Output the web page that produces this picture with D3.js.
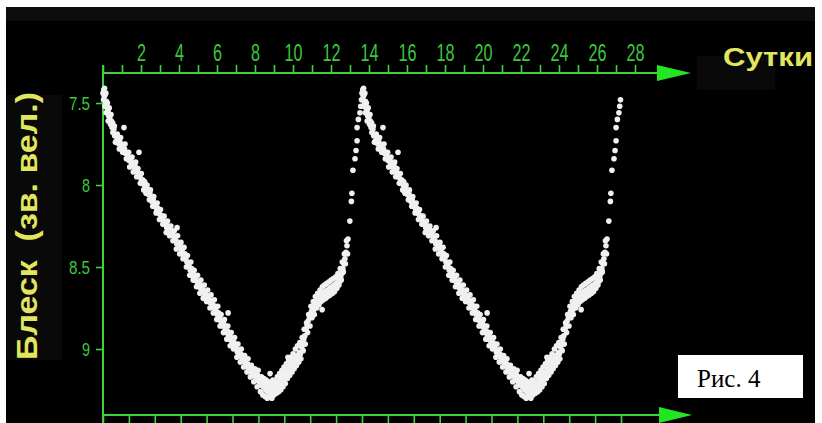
<!DOCTYPE html>
<html>
<head>
<meta charset="utf-8">
<script src="https://cdn.jsdelivr.net/npm/d3@7"></script>
<style>
  body { margin: 0; background: #fff; }
  svg { display: block; }
</style>
</head>
<body>
<div id="rootDiv"></div>
<script>
const width = 822
const height = 423

// top axis: days
const dayTicks = d3.range(0, 29)
const dayLabels = [2, 4, 6, 8, 10, 12, 14, 16, 18, 20, 22, 24, 26, 28]
// bottom axis: phase ticks (two periods)
const phaseTicks = d3.range(0, 21).map(i => i / 10)
// left axis: magnitude
const magTicks = [7.5, 8, 8.5, 9]

// one period of the light curve, [phase, magnitude], plotted twice
const lightCurve = [
    [0.000, 7.44], [0.003, 7.42], [0.005, 7.46], [0.002, 7.48], [0.008, 7.45], [0.010, 7.50], [0.007, 7.52],
    [0.013, 7.49], [0.016, 7.53], [0.012, 7.56], [0.019, 7.55], [0.022, 7.58], [0.020, 7.61], [0.026, 7.59],
    [0.029, 7.63], [0.032, 7.61], [0.035, 7.65], [0.038, 7.68], [0.042, 7.66], [0.045, 7.70], [0.081, 7.65],
    [0.052, 7.73], [0.057, 7.72], [0.061, 7.75], [0.066, 7.74], [0.070, 7.77], [0.074, 7.76], [0.079, 7.79],
    [0.083, 7.78], [0.088, 7.81], [0.092, 7.80], [0.097, 7.83], [0.101, 7.85], [0.105, 7.84], [0.110, 7.87],
    [0.114, 7.86], [0.119, 7.89], [0.123, 7.88], [0.139, 7.80], [0.128, 7.91], [0.132, 7.92], [0.137, 7.94],
    [0.141, 7.93], [0.146, 7.96], [0.150, 7.98], [0.154, 7.97], [0.159, 8.00], [0.163, 8.02], [0.168, 8.01],
    [0.172, 8.04], [0.176, 8.06], [0.181, 8.05], [0.185, 8.08], [0.189, 8.10], [0.194, 8.09], [0.198, 8.12],
    [0.203, 8.13], [0.207, 8.15], [0.211, 8.14], [0.216, 8.17], [0.220, 8.18], [0.225, 8.20], [0.229, 8.19],
    [0.233, 8.22], [0.238, 8.23], [0.242, 8.24], [0.246, 8.26], [0.251, 8.25], [0.255, 8.28], [0.259, 8.27],
    [0.264, 8.30], [0.268, 8.29], [0.272, 8.31], [0.277, 8.33], [0.286, 8.26], [0.281, 8.34], [0.285, 8.36],
    [0.290, 8.35], [0.294, 8.38], [0.298, 8.37], [0.303, 8.40], [0.307, 8.41], [0.311, 8.43], [0.316, 8.42],
    [0.320, 8.45], [0.324, 8.47], [0.329, 8.48], [0.333, 8.50], [0.337, 8.52], [0.342, 8.51], [0.346, 8.54],
    [0.350, 8.56], [0.355, 8.55], [0.359, 8.58], [0.363, 8.59], [0.368, 8.61], [0.372, 8.60], [0.376, 8.63],
    [0.381, 8.62], [0.385, 8.64], [0.389, 8.66], [0.394, 8.65], [0.398, 8.67], [0.402, 8.69], [0.407, 8.68],
    [0.411, 8.70], [0.415, 8.72], [0.420, 8.71], [0.424, 8.73], [0.428, 8.75], [0.433, 8.74], [0.437, 8.77],
    [0.441, 8.79], [0.446, 8.78], [0.450, 8.81], [0.454, 8.83], [0.459, 8.84], [0.463, 8.86], [0.467, 8.85],
    [0.483, 8.78], [0.472, 8.88], [0.476, 8.90], [0.480, 8.89], [0.485, 8.92], [0.489, 8.94], [0.493, 8.93],
    [0.498, 8.96], [0.502, 8.97], [0.506, 8.96], [0.511, 8.99], [0.515, 9.00], [0.519, 9.02], [0.524, 9.01],
    [0.528, 9.04], [0.532, 9.03], [0.537, 9.06], [0.541, 9.05], [0.545, 9.08], [0.550, 9.07], [0.554, 9.10],
    [0.558, 9.09], [0.563, 9.12], [0.567, 9.11], [0.571, 9.14], [0.576, 9.13], [0.580, 9.16], [0.584, 9.15],
    [0.589, 9.17], [0.593, 9.19], [0.597, 9.16], [0.602, 9.20], [0.606, 9.18], [0.610, 9.22], [0.615, 9.20],
    [0.619, 9.23], [0.623, 9.21], [0.628, 9.25], [0.632, 9.22], [0.636, 9.26], [0.641, 9.23], [0.645, 9.15],
    [0.645, 9.27], [0.650, 9.24], [0.654, 9.26], [0.658, 9.22], [0.663, 9.25], [0.667, 9.23], [0.671, 9.21],
    [0.676, 9.24], [0.680, 9.20], [0.684, 9.22], [0.689, 9.18], [0.693, 9.20], [0.697, 9.16], [0.702, 9.18],
    [0.706, 9.14], [0.714, 9.05], [0.710, 9.15], [0.715, 9.12], [0.719, 9.13], [0.723, 9.10], [0.728, 9.11],
    [0.732, 9.08], [0.736, 9.09], [0.741, 9.06], [0.745, 9.07], [0.749, 9.04], [0.754, 9.05], [0.758, 9.02],
    [0.762, 9.03], [0.767, 8.99], [0.771, 8.97], [0.775, 8.94], [0.779, 8.92], [0.784, 8.88], [0.788, 8.86],
    [0.792, 8.83], [0.797, 8.81], [0.801, 8.79], [0.805, 8.77], [0.810, 8.75], [0.814, 8.76], [0.818, 8.73],
    [0.823, 8.72], [0.827, 8.70], [0.831, 8.71], [0.846, 8.76], [0.836, 8.68], [0.840, 8.69], [0.844, 8.67],
    [0.849, 8.66], [0.853, 8.68], [0.857, 8.65], [0.862, 8.66], [0.866, 8.64], [0.870, 8.65], [0.875, 8.63],
    [0.879, 8.64], [0.883, 8.62], [0.888, 8.63], [0.892, 8.61], [0.896, 8.62], [0.901, 8.60], [0.905, 8.61],
    [0.909, 8.58], [0.913, 8.59], [0.918, 8.56], [0.922, 8.54], [0.926, 8.51], [0.930, 8.48], [0.934, 8.45],
    [0.938, 8.41], [0.942, 8.37], [0.946, 8.33], [0.953, 8.22], [0.959, 8.10], [0.961, 8.05], [0.965, 7.91],
    [0.973, 7.84], [0.977, 7.79], [0.981, 7.73], [0.981, 7.65], [0.986, 7.60], [0.992, 7.56], [0.995, 7.52],
    [0.998, 7.48],
    // scatter either side of the band
    [0.006, 7.41], [0.011, 7.44], [0.017, 7.50], [0.024, 7.53], [0.031, 7.57], [0.037, 7.62], [0.044, 7.64],
    [0.048, 7.74], [0.055, 7.69], [0.063, 7.78], [0.068, 7.71], [0.076, 7.80], [0.085, 7.75], [0.090, 7.84],
    [0.099, 7.80], [0.103, 7.89], [0.112, 7.83], [0.117, 7.92], [0.126, 7.86], [0.130, 7.95], [0.135, 7.90],
    [0.144, 7.99], [0.148, 7.93], [0.157, 8.03], [0.161, 7.98], [0.166, 8.05], [0.170, 8.00], [0.179, 8.09],
    [0.183, 8.03], [0.192, 8.13], [0.196, 8.07], [0.205, 8.17], [0.209, 8.11], [0.218, 8.21], [0.222, 8.15],
    [0.231, 8.24], [0.236, 8.19], [0.244, 8.29], [0.249, 8.22], [0.257, 8.31], [0.262, 8.25], [0.270, 8.34],
    [0.275, 8.28], [0.283, 8.39], [0.288, 8.31], [0.296, 8.42], [0.301, 8.35], [0.309, 8.45], [0.313, 8.38],
    [0.322, 8.50], [0.326, 8.43], [0.335, 8.55], [0.339, 8.47], [0.348, 8.58], [0.352, 8.52], [0.361, 8.62],
    [0.365, 8.55], [0.374, 8.66], [0.378, 8.58], [0.387, 8.69], [0.391, 8.61], [0.400, 8.71], [0.404, 8.64],
    [0.413, 8.75], [0.417, 8.67], [0.426, 8.78], [0.430, 8.70], [0.439, 8.82], [0.443, 8.74], [0.452, 8.86],
    [0.456, 8.79], [0.465, 8.90], [0.469, 8.82], [0.478, 8.94], [0.482, 8.86], [0.491, 8.98], [0.495, 8.90],
    [0.504, 9.00], [0.508, 8.93], [0.517, 9.05], [0.521, 8.97], [0.530, 9.08], [0.534, 9.00], [0.543, 9.11],
    [0.547, 9.04], [0.556, 9.14], [0.560, 9.06], [0.569, 9.17], [0.573, 9.10], [0.582, 9.20], [0.586, 9.12],
    [0.595, 9.23], [0.599, 9.13], [0.608, 9.26], [0.612, 9.17], [0.617, 9.28], [0.621, 9.18], [0.626, 9.29],
    [0.630, 9.19], [0.634, 9.30], [0.639, 9.20], [0.643, 9.29], [0.648, 9.21], [0.652, 9.30], [0.656, 9.19],
    [0.660, 9.28], [0.665, 9.20], [0.669, 9.27], [0.673, 9.17], [0.678, 9.26], [0.682, 9.15], [0.686, 9.25],
    [0.691, 9.13], [0.695, 9.23], [0.699, 9.11], [0.704, 9.21], [0.708, 9.09], [0.712, 9.18], [0.717, 9.07],
    [0.721, 9.16], [0.725, 9.05], [0.730, 9.14], [0.734, 9.03], [0.738, 9.12], [0.743, 9.00], [0.747, 9.10],
    [0.751, 8.98], [0.756, 9.08], [0.760, 8.96], [0.764, 9.06], [0.769, 8.93], [0.773, 9.01], [0.777, 8.88],
    [0.781, 8.97], [0.786, 8.84], [0.790, 8.90], [0.794, 8.79], [0.799, 8.86], [0.803, 8.74], [0.807, 8.81],
    [0.812, 8.71], [0.816, 8.79], [0.820, 8.68], [0.825, 8.75], [0.829, 8.66], [0.834, 8.73], [0.838, 8.64],
    [0.842, 8.71], [0.847, 8.62], [0.851, 8.70], [0.855, 8.61], [0.860, 8.69], [0.864, 8.60], [0.868, 8.68],
    [0.873, 8.59], [0.877, 8.67], [0.881, 8.58], [0.886, 8.66], [0.890, 8.57], [0.894, 8.65], [0.899, 8.56],
    [0.903, 8.63], [0.907, 8.54], [0.911, 8.61], [0.916, 8.51], [0.920, 8.58], [0.924, 8.47], [0.928, 8.53],
    [0.932, 8.42], [0.936, 8.48], [0.940, 8.34], [0.944, 8.42]
]

const svg = d3.select("#rootDiv").append("svg")
    .attr("width", width)
    .attr("height", height)

const green = "#3dd43d"
const labelGreen = "#3cc83c"
const yellow = "#e2e55e"
const sans = "'Liberation Sans', Arial, sans-serif"

// background
svg.append("rect").attr("x", 6).attr("y", 7).attr("width", 809).attr("height", 416).attr("fill", "#000")
svg.append("rect").attr("x", 6).attr("y", 7).attr("width", 809).attr("height", 14).attr("fill", "#0d0d0d")
svg.append("rect").attr("x", 7).attr("y", 95).attr("width", 55).attr("height", 265).attr("fill", "#090909")
svg.append("rect").attr("x", 697).attr("y", 56).attr("width", 78).attr("height", 34).attr("fill", "#090909")

const xDay = d3.scaleLinear().domain([0, 28]).range([103, 635])
const xPhase = d3.scaleLinear().domain([0, 2]).range([103, 621])
const y = d3.scaleLinear().domain([7.5, 9]).range([103, 349])

const topY = 73
const bottomY = 415

// narrow digits: squeeze each label to the width of the original
const digitWidth = s => String(s).replace(".", "").length * 9 + (String(s).includes(".") ? 4 : 0)

// top axis
const topAxis = svg.append("g")
    .attr("transform", `translate(0,${topY})`)
    .call(d3.axisTop(xDay).tickValues(dayTicks).tickSize(8).tickPadding(4)
        .tickFormat(d => dayLabels.includes(d) ? d : ""))
topAxis.select(".domain").remove()
topAxis.selectAll("line").attr("stroke", green).attr("stroke-width", 1.6)
topAxis.selectAll("text")
    .attr("fill", labelGreen)
    .style("font-family", sans).style("font-size", "23px")
    .each(function () {
        const t = d3.select(this).text()
        if (t) d3.select(this).attr("textLength", digitWidth(t)).attr("lengthAdjust", "spacingAndGlyphs")
    })

// bottom axis
const bottomAxis = svg.append("g")
    .attr("transform", `translate(0,${bottomY})`)
    .call(d3.axisBottom(xPhase).tickValues(phaseTicks).tickSize(8).tickFormat(""))
bottomAxis.select(".domain").remove()
bottomAxis.selectAll("line").attr("stroke", green).attr("stroke-width", 1.6)

// left axis
const leftAxis = svg.append("g")
    .attr("transform", "translate(103,0)")
    .call(d3.axisLeft(y).tickValues(magTicks).tickSize(7).tickPadding(6).tickFormat(d => d))
leftAxis.select(".domain").remove()
leftAxis.selectAll("line").attr("stroke", green).attr("stroke-width", 1.6)
leftAxis.selectAll("text")
    .attr("fill", labelGreen)
    .style("font-family", sans).style("font-size", "19px")
    .each(function () {
        const t = d3.select(this).text()
        d3.select(this).attr("textLength", digitWidth(t) - 1).attr("lengthAdjust", "spacingAndGlyphs")
    })

// axis lines and arrows
svg.append("line").attr("x1", 103).attr("x2", 103).attr("y1", 65).attr("y2", 423)
    .attr("stroke", green).attr("stroke-width", 2)
svg.append("line").attr("x1", 103).attr("x2", 660).attr("y1", topY).attr("y2", topY)
    .attr("stroke", green).attr("stroke-width", 2)
svg.append("line").attr("x1", 103).attr("x2", 662).attr("y1", bottomY).attr("y2", bottomY)
    .attr("stroke", green).attr("stroke-width", 2)
svg.append("polygon").attr("points", `657,65 691,${topY} 657,81`).attr("fill", "#22e622")
svg.append("polygon").attr("points", `659,407 692,${bottomY} 659,423`).attr("fill", "#22e622")

// light curve, two periods
const points = lightCurve.map(d => [d[0], d[1]]).concat(lightCurve.map(d => [d[0] + 1, d[1]]))
svg.append("g").selectAll("circle")
    .data(points)
    .enter()
    .append("circle")
    .attr("cx", d => xPhase(d[0]))
    .attr("cy", d => y(d[1]))
    .attr("r", 2.8)
    .attr("fill", "#f0f0f0")

// titles
svg.append("text")
    .attr("x", 723).attr("y", 66)
    .attr("fill", yellow)
    .attr("textLength", 90).attr("lengthAdjust", "spacingAndGlyphs")
    .style("font-family", sans)
    .style("font-weight", "bold").style("font-size", "26px")
    .text("Сутки")

svg.append("text")
    .attr("transform", "translate(37,226) rotate(-90)")
    .attr("text-anchor", "middle")
    .attr("fill", yellow)
    .attr("textLength", 268).attr("lengthAdjust", "spacingAndGlyphs")
    .style("font-family", sans)
    .style("font-weight", "bold").style("font-size", "29px")
    .style("white-space", "pre")
    .text("Блеск  (зв. вел.)")

// figure caption box
svg.append("rect").attr("x", 678).attr("y", 355).attr("width", 125).attr("height", 43).attr("fill", "#fff")
svg.append("text")
    .attr("x", 697).attr("y", 387)
    .attr("fill", "#000")
    .style("font-family", "'Liberation Serif', 'Times New Roman', serif")
    .style("font-size", "25px")
    .text("Рис. 4")
</script>
</body>
</html>
